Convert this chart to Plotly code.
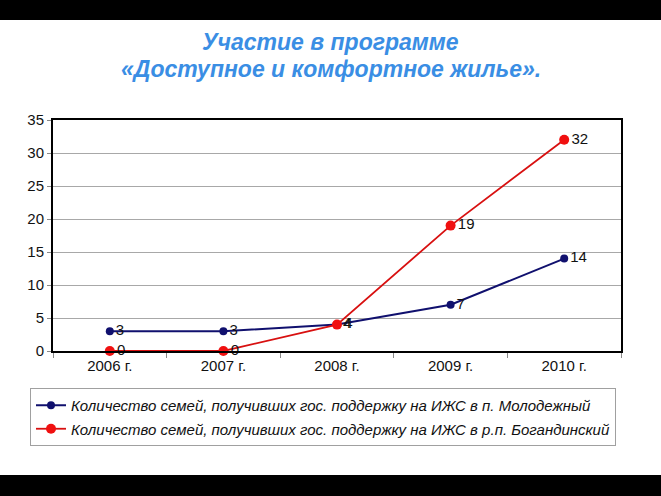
import plotly.graph_objects as go

categories = ["2006 г.", "2007 г.", "2008 г.", "2009 г.", "2010 г."]
molodezhny = [3, 3, 4, 7, 14]
bogandinsky = [0, 0, 4, 19, 32]
name_mol = "Количество семей, получивших гос. поддержку на ИЖС в п. Молодежный"
name_bog = "Количество семей, получивших гос. поддержку на ИЖС в р.п. Богандинский"
y_ticks = [0, 5, 10, 15, 20, 25, 30, 35]
title_lines = ["Участие в программе", "«Доступное и комфортное жилье»."]

W, H = 661, 496
L, R, T, B = 53, 40, 120, 145
pw, ph = W - L - R, H - T - B

def px_x(x):
    return (x - L) / pw

def px_y(y):
    return (H - B - y) / ph

FONT = "Liberation Sans, Arial, sans-serif"

fig = go.Figure()
fig.add_trace(go.Scatter(
    x=categories, y=molodezhny, name=name_mol, mode="lines+markers+text",
    line=dict(color="#10106e", width=2), marker=dict(color="#10106e", size=8),
    text=[str(v) for v in molodezhny], textposition="middle right",
    textfont=dict(size=15, color="#111111", family=FONT), legendgroup="a",
    cliponaxis=False,
))
fig.add_trace(go.Scatter(
    x=categories, y=bogandinsky, name=name_bog, mode="lines+markers+text",
    line=dict(color="#d81010", width=1.8), marker=dict(color="#f01010", size=10),
    text=[str(v) for v in bogandinsky], textposition="middle right",
    textfont=dict(size=15, color="#111111", family=FONT), legendgroup="b",
    cliponaxis=False,
))

shapes = [
    dict(type="rect", xref="paper", yref="paper", x0=px_x(0), x1=px_x(W),
         y0=px_y(0), y1=px_y(20), fillcolor="black", line=dict(width=0), layer="above"),
    dict(type="rect", xref="paper", yref="paper", x0=px_x(0), x1=px_x(W),
         y0=px_y(475), y1=px_y(H), fillcolor="black", line=dict(width=0), layer="above"),
]

annotations = [
    dict(text="<b><i>" + title_lines[0] + "</i></b>", xref="paper", yref="paper",
         x=px_x(W / 2), y=px_y(42), xanchor="center", yanchor="middle", showarrow=False,
         font=dict(size=23, color="#3a8ee4", family=FONT)),
    dict(text="<b><i>" + title_lines[1] + "</i></b>", xref="paper", yref="paper",
         x=px_x(W / 2), y=px_y(69), xanchor="center", yanchor="middle", showarrow=False,
         font=dict(size=23, color="#3a8ee4", family=FONT)),
]

fig.update_layout(
    width=W, height=H,
    margin=dict(l=L, r=R, t=T, b=B),
    paper_bgcolor="white", plot_bgcolor="white",
    font=dict(family=FONT, color="#111111", size=15),
    showlegend=True,
    legend=dict(
        x=px_x(30), y=px_y(388), xanchor="left", yanchor="top",
        bordercolor="#a0a0a0", borderwidth=1, bgcolor="white",
        font=dict(size=15, family=FONT, style="italic"),
        traceorder="grouped", tracegroupgap=1,
    ),
    shapes=shapes,
    annotations=annotations,
    xaxis=dict(
        type="category", showgrid=False, showline=True, linecolor="black", linewidth=2,
        mirror=True, ticks="outside", tickson="boundaries", ticklen=5, tickcolor="#888",
        tickfont=dict(size=15), range=[-0.5, 4.5],
    ),
    yaxis=dict(
        range=[0, 35], tickvals=y_ticks, showgrid=True, gridcolor="#a8a8a8", gridwidth=1,
        showline=True, linecolor="black", linewidth=2, mirror=True,
        ticks="outside", ticklen=4, tickcolor="#888", tickfont=dict(size=15),
        zeroline=False,
    ),
)

fig.write_html("out.html", config={"displayModeBar": False},
               post_script="document.body.style.margin='0px';document.body.style.overflow='hidden';")
